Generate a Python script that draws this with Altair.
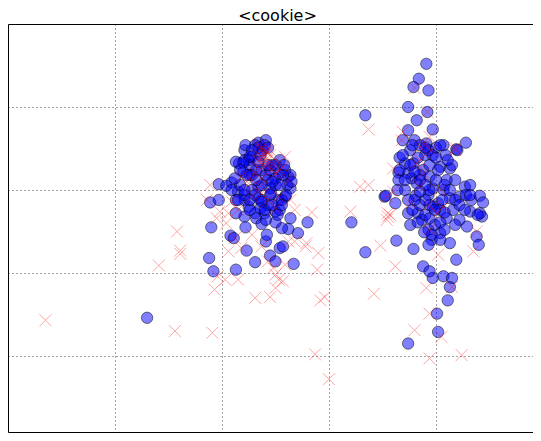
import altair as alt
import pandas as pd

title_text = ["<cookie>"]

# Blue circles (data units)
blue_x = [1.30, 1.90, 2.08, 1.88, 1.92, 2.13, 2.23, 2.31, 2.45, 2.50, 2.54, 2.57, 2.41, 2.42, 2.67,
          2.71, 2.80, 2.62, 2.56, 3.21, 3.34, 3.52,
          2.34, 2.41, 2.31, 2.16, 2.25, 2.28, 1.97, 2.09, 1.89, 1.97, 2.15, 2.21, 2.25, 2.34, 2.43,
          2.53, 2.62, 2.64, 2.59, 2.53, 2.46, 2.37, 2.31, 2.40, 2.50, 2.54, 2.21,
          2.20, 2.38, 2.47, 2.43, 2.13, 2.32, 2.64, 2.37, 2.22, 2.11, 2.04, 2.28, 2.37,
          2.21, 2.26, 2.32, 2.41, 2.50, 2.56, 2.45, 2.28, 2.21, 2.13, 2.36, 2.59, 2.64, 2.54, 2.21,
          2.13, 2.34, 2.41, 2.50, 2.26,
          2.20, 2.26, 2.34, 2.40, 2.36, 2.45, 2.50, 2.57, 2.61, 2.37, 2.31, 2.45, 2.56, 2.40, 2.26,
          2.17, 2.09, 2.23, 2.52, 2.43,
          2.22, 2.28, 2.43, 2.50, 2.54, 2.47, 2.32, 2.17, 2.12, 2.21, 2.37, 2.47, 2.60, 2.34, 2.26,
          2.15, 2.65, 2.58,
          3.91, 3.84, 3.79, 3.93, 3.34, 3.74, 3.82, 3.92, 3.97, 3.74, 3.69, 3.91, 3.85, 4.07, 4.19,
          4.28, 3.71, 3.65, 3.79, 3.88, 4.04, 4.13, 3.94, 3.82, 3.71, 3.77, 4.10, 4.18, 4.27, 3.53,
          3.62, 3.81, 3.93, 4.02, 4.13, 4.22, 4.33, 4.41, 4.44, 3.74, 3.83, 3.97, 4.04, 4.16, 4.32,
          4.43, 3.76, 3.87, 3.93, 3.99, 4.10, 4.29, 4.38, 4.40, 4.04, 4.13, 3.96, 3.63, 3.79, 4.19,
          3.88, 3.97, 3.94, 4.07, 4.15, 4.13, 4.11, 4.01, 4.02, 3.74,
          4.00, 3.90, 3.97, 3.85,
          3.76, 3.83, 3.93, 4.09, 3.85, 4.00, 4.07, 3.94, 3.90, 4.18, 4.04, 3.96, 3.89, 4.22, 3.74,
          3.66, 3.65, 4.15, 4.28, 4.41,
          3.80, 3.90, 3.97, 4.20, 3.76, 3.66, 3.85, 3.94, 4.08, 4.02, 3.90, 3.78, 3.94, 4.08, 4.32,
          4.39, 4.04, 3.93, 3.80, 3.69,
          3.78, 4.04, 4.11, 3.94, 3.80, 3.71, 3.90, 4.13, 4.22, 4.06, 3.83, 3.99, 4.18, 4.27, 3.74,
          3.64, 4.00, 3.85, 4.32, 4.08]
blue_y = [1.46, 2.55, 2.45, 2.18, 2.02, 2.04, 2.27, 2.13, 2.21, 2.14, 2.30, 2.32, 2.38, 2.46, 2.11,
          2.48, 2.61, 2.53, 2.54, 2.61, 2.25, 2.92,
          3.57, 3.60, 3.54, 3.32, 3.36, 3.40, 3.07, 3.09, 2.85, 2.88, 2.98, 2.88, 2.80, 3.04, 3.12,
          3.20, 3.16, 3.02, 2.92, 2.88, 2.96, 2.88, 2.72, 2.72, 2.74, 2.76, 2.68,
          3.22, 3.48, 3.30, 2.82, 2.72, 2.66, 2.66, 2.59, 2.55, 2.42, 3.05, 3.18, 3.24,
          3.48, 3.30, 3.24, 3.18, 3.06, 2.88, 3.02, 3.00, 2.94, 2.88, 2.78, 3.24, 3.18, 3.36, 3.36,
          3.34, 2.90, 2.64, 2.61, 3.18,
          3.33, 3.40, 3.51, 3.54, 3.42, 3.24, 3.14, 3.18, 3.06, 3.06, 2.94, 2.94, 2.82, 2.76, 2.76,
          3.06, 3.00, 3.18, 2.70, 3.30,
          3.54, 3.48, 3.51, 3.30, 3.06, 3.10, 3.12, 3.24, 3.14, 3.00, 2.86, 2.82, 2.94, 3.34, 2.88,
          2.88, 3.10, 3.30,
          4.52, 4.34, 4.24, 4.20, 3.90, 4.00, 3.84, 3.94, 3.73, 3.72, 3.60, 3.56, 3.54, 3.54, 3.49,
          3.57, 3.32, 3.21, 3.32, 3.24, 3.28, 3.26, 3.16, 3.08, 3.00, 3.14, 3.12, 3.12, 3.04, 2.93,
          2.84, 2.93, 2.94, 2.84, 2.90, 2.92, 2.88, 2.93, 2.85, 2.72, 2.72, 2.80, 2.76, 2.76, 2.74,
          2.68, 2.58, 2.64, 2.52, 2.58, 2.66, 2.56, 2.44, 2.34, 2.48, 2.36, 2.40, 2.39, 2.29, 2.16,
          2.08, 1.94, 2.02, 1.96, 1.94, 1.83, 1.67, 1.51, 1.29, 1.15,
          3.51, 3.42, 3.02, 2.82,
          3.48, 3.39, 3.48, 3.42, 3.18, 3.12, 3.00, 2.82, 2.70, 2.88, 2.61, 2.46, 2.49, 2.64, 3.20,
          3.39, 3.12, 3.30, 2.94, 2.72,
          3.60, 3.51, 3.42, 3.48, 3.30, 3.24, 3.12, 3.00, 3.06, 3.24, 2.88, 2.76, 2.66, 2.73, 2.94,
          2.70, 2.40, 2.34, 2.88, 3.42,
          3.54, 3.54, 3.36, 3.30, 3.22, 3.12, 3.06, 3.00, 2.82, 2.88, 2.61, 2.76, 2.58, 2.76, 2.88,
          3.00, 3.39, 2.98, 3.06, 2.52]

# Red crosses
red_x = [0.35, 1.58, 1.61, 1.61, 1.41, 1.56, 1.91, 1.96, 2.84, 2.79, 2.90, 2.89, 2.92, 2.96, 3.20,
         3.48, 3.42, 2.87, 3.00, 3.55, 1.95, 2.04, 2.15, 2.31, 2.45, 2.50, 2.53, 2.50, 2.57, 2.48,
         2.43, 2.68, 2.78, 2.12, 2.18, 2.28, 2.37, 2.06, 2.03, 2.59, 2.62, 1.93,
         2.37, 2.40, 2.43, 2.46, 2.50, 2.36, 2.31, 2.25, 2.18, 2.59, 2.57, 2.62, 1.89, 1.86, 1.98,
         2.09, 2.15, 2.28, 2.37, 2.43, 2.53, 2.64, 2.68, 2.06, 2.50, 2.36, 2.38, 2.41, 2.34, 2.45,
         2.34, 2.37, 2.41, 2.45, 2.37, 2.41, 2.47, 2.34, 2.26, 2.37, 2.50, 2.54,
         3.80, 3.92, 3.37, 3.69, 3.94, 3.68, 4.18, 3.85, 3.60, 3.82, 3.88, 3.37, 3.85, 3.60, 3.55,
         3.54, 3.57, 3.76, 4.01, 4.07, 3.94, 4.38, 4.35, 4.02, 3.62, 4.15, 3.91, 3.94, 3.80, 4.05,
         3.94, 4.24, 3.54, 3.29,
         3.90, 4.18, 3.96, 4.04, 3.85, 3.93]
red_y = [1.43, 2.50, 2.27, 2.23, 2.09, 1.30, 1.28, 1.96, 2.73, 2.36, 2.24, 2.04, 1.67, 1.71, 2.74,
         2.33, 1.75, 1.02, 0.72, 2.68, 2.66, 2.60, 1.92, 1.70, 1.71, 1.82, 1.92, 1.98, 1.90, 2.06,
         2.14, 2.38, 2.32, 2.42, 2.30, 2.46, 2.32, 2.26, 1.92, 2.10, 2.38, 1.80,
         3.48, 3.42, 3.36, 3.28, 3.20, 3.32, 3.20, 3.08, 3.16, 3.40, 3.28, 3.12, 3.06, 2.88, 2.74,
         2.86, 2.76, 2.92, 2.96, 2.88, 2.92, 2.88, 2.76, 2.72, 2.78, 3.04, 3.39, 3.46, 3.36, 3.48,
         3.54, 3.51, 3.48, 3.42, 3.36, 3.30, 3.24, 3.27, 3.14, 3.14, 3.36, 3.24,
         4.23, 3.94, 3.73, 3.70, 3.64, 3.60, 3.48, 3.52, 3.26, 3.32, 3.20, 3.06, 3.04, 2.98, 2.72,
         2.64, 2.70, 2.84, 2.72, 2.80, 2.52, 2.50, 2.26, 2.22, 2.08, 1.83, 1.82, 1.51, 1.31, 1.23,
         0.97, 1.01, 2.92, 3.04,
         3.54, 3.51, 3.48, 3.00, 3.36, 2.82]

grid_ticks = [1, 2, 3, 4]

blue_df = pd.DataFrame({"x": blue_x, "y": blue_y})
red_df = pd.DataFrame({"x": red_x, "y": red_y})
title_df = pd.DataFrame({"t": title_text})

# visible part of the axes (the reference is cropped at the right and bottom)
xs = alt.Scale(domain=[0, 4.907], nice=False, zero=False)
ys = alt.Scale(domain=[0.084, 5], nice=False, zero=False)

grid_style = dict(labels=False, ticks=False, title=None, grid=True,
                  gridColor="#444", gridDash=[1, 3], gridWidth=1, values=grid_ticks,
                  domain=True, domainColor="black", domainWidth=1)

blue = alt.Chart(blue_df).mark_circle(
    size=130, color="#0000ff", fillOpacity=0.5, stroke="black", strokeOpacity=0.5, strokeWidth=1
).encode(
    x=alt.X("x:Q", scale=xs, axis=alt.Axis(orient="bottom", **grid_style)),
    y=alt.Y("y:Q", scale=ys, axis=alt.Axis(orient="left", **grid_style)),
)

red = alt.Chart(red_df).mark_point(
    shape="M-1,-1L1,1M-1,1L1,-1", filled=False, stroke="#ff0000", strokeWidth=1,
    opacity=0.35, size=144
).encode(
    x=alt.X("x:Q", scale=xs, axis=alt.Axis(orient="top", labels=False, ticks=False, grid=False,
                                           title=None, domain=True, domainColor="black",
                                           domainWidth=1)),
    y=alt.Y("y:Q", scale=ys),
)

title = alt.Chart(title_df).mark_text(
    font="DejaVu Sans", fontSize=16, color="black", align="center", baseline="top"
).encode(
    text="t:N",
    x=alt.value(269.5),
    y=alt.value(-16),
)

chart = alt.layer(blue, red, title).resolve_axis(x="independent").properties(
    width=525,
    height=408,
    autosize=alt.AutoSizeParams(type="none"),
    padding={"left": 0, "top": 16, "right": 0, "bottom": 1},
).configure_view(
    stroke=None
)

chart.save("out.html", embed_options={"renderer": "svg", "actions": False})
